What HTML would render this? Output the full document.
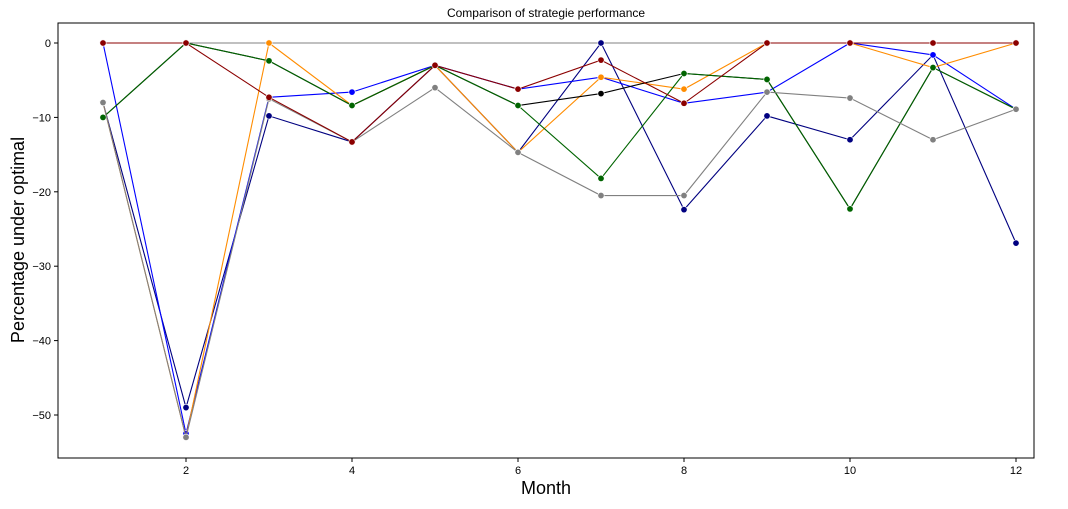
<!DOCTYPE html>
<html><head><meta charset="utf-8"><style>
body{margin:0;background:#fff;font-family:"Liberation Sans",sans-serif}
svg text{font-family:"Liberation Sans",sans-serif}
</style></head><body>
<svg id="c" width="1068" height="504"></svg>
<script>
const months=[1,2,3,4,5,6,7,8,9,10,11,12];
const yTicks=[0,-10,-20,-30,-40,-50];
const xTicks=[2,4,6,8,10,12];
const optimal=[0,0,0,0,0,0,0,0,0,0,0,0];
const sNavy=[-8,-49,-9.8,-13.3,-3,-14.7,0,-22.4,-9.8,-13,-1.6,-26.9];
const sBlue=[0,-52.5,-7.3,-6.6,-3,-6.2,-4.6,-8.1,-6.6,0,-1.6,-8.9];
const sOrange=[-8,-53,0,-8.4,-3,-14.7,-4.6,-6.2,0,0,-3.3,0];
const sBlack=[-10,0,-2.4,-8.4,-3,-8.4,-6.8,-4.1,-4.9,-22.3,-3.3,-8.9];
const sGreen=[-10,0,-2.4,-8.4,-3,-8.4,-18.2,-4.1,-4.9,-22.3,-3.3,-8.9];
const sGray=[-8,-53,-7.5,-13.3,-6,-14.7,-20.5,-20.5,-6.6,-7.4,-13,-8.9];
const sRed=[0,0,-7.3,-13.3,-3,-6.2,-2.3,-8.1,0,0,0,0];
const series=[["navy",sNavy,"navy-series"],["blue",sBlue,"blue-series"],["darkorange",sOrange,"orange-series"],["black",sBlack,"black-series"],["darkgreen",sGreen,"green-series"],["grey",sGray,"gray-series"],["darkred",sRed,"darkred-series"]];
const L=58,R=1034,T=23,B=458;
const xs=v=>103+(v-1)*83;
const ys=v=>43-v*7.44;
const svg=document.getElementById('c');
const NS="http://www.w3.org/2000/svg";
function mk(t,a,p){const e=document.createElementNS(NS,t);for(const k in a)e.setAttribute(k,a[k]);(p||svg).appendChild(e);return e;}
let e;
e=mk('text',{x:546,y:17,'text-anchor':'middle','font-size':12});e.textContent='Comparison of strategie performance';


e=mk('text',{x:546,y:494,'text-anchor':'middle','font-size':18});e.textContent='Month';


e=mk('text',{x:0,y:0,'text-anchor':'middle','font-size':18,transform:'translate(24,240) rotate(-90)'});e.textContent='Percentage under optimal';


xTicks.forEach(t=>{mk('line',{x1:xs(t),x2:xs(t),y1:B,y2:B+4,stroke:'#000'});
e=mk('text',{x:xs(t),y:B+16,'text-anchor':'middle','font-size':11});e.textContent=t;

});
yTicks.forEach(t=>{mk('line',{x1:L-4,x2:L,y1:ys(t),y2:ys(t),stroke:'#000'});
e=mk('text',{x:L-7,y:ys(t)+4,'text-anchor':'end','font-size':11});e.textContent=t===0?'0':'\u2212'+Math.abs(t);

});
e=mk('polyline',{points:months.map((m,i)=>xs(m)+','+ys(optimal[i])).join(' '),fill:'none',stroke:'grey','stroke-width':1});


series.forEach(([c,d,n])=>{
const g=mk('g',{});


mk('polyline',{points:months.map((m,i)=>xs(m)+','+ys(d[i])).join(' '),fill:'none',stroke:c,'stroke-width':1.1},g);
months.forEach((m,i)=>{const p=mk('circle',{cx:xs(m),cy:ys(d[i]),r:3.2,fill:c,stroke:'#fff','stroke-width':0.6},g);

});
});
e=mk('rect',{x:L,y:T,width:R-L,height:B-T,fill:'none',stroke:'#000','stroke-width':1});


</script>
</body></html>
